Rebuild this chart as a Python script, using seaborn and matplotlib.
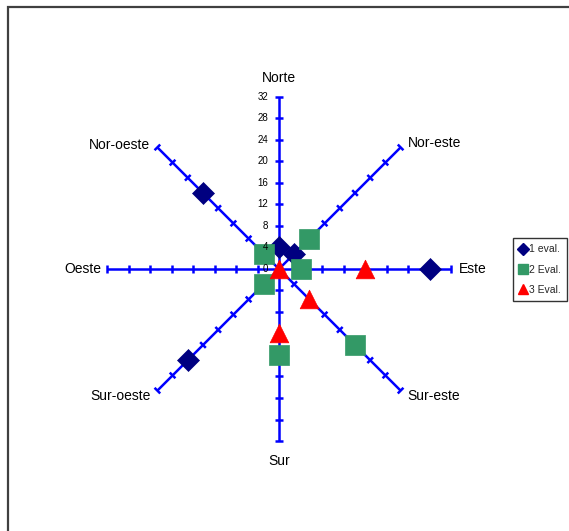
import numpy as np
import pandas as pd
import matplotlib
matplotlib.use("Agg")
import matplotlib.pyplot as plt
import seaborn as sns
from matplotlib.patches import Rectangle
from matplotlib.collections import LineCollection
from matplotlib.lines import Line2D

nan = np.nan

# Compass directions, clockwise from north
directions = ["Norte", "Nor-este", "Este", "Sur-este", "Sur", "Sur-oeste", "Oeste", "Nor-oeste"]

# Values per direction for each evaluation (nan = no value)
eval_1 = [4, 4, 28, nan, nan, 24, nan, 20]
eval_2 = [nan, 8, 4, 20, 16, 4, nan, 4]
eval_3 = [0, nan, 16, 8, 12, nan, nan, nan]
series_names = ["1 eval.", "2 Eval.", "3 Eval."]

radial_ticks = [0, 4, 8, 12, 16, 20, 24, 28, 32]
r_max = 32

sns.set_style("white")
plt.rcParams["font.family"] = ["Liberation Sans", "DejaVu Sans"]

W, H = 569, 531
PX = 5.375          # pixels per data unit
CX, CY = 279, 269   # centre of the radar in pixels

fig = plt.figure(figsize=(W / 100, H / 100), dpi=100)
ax = fig.add_axes([0, 0, 1, 1])
ax.set_xlim(-CX / PX, (W - CX) / PX)
ax.set_ylim(-(H - CY) / PX, CY / PX)
ax.axis("off")

theta = np.deg2rad(np.arange(len(directions)) * 45.0)
sin_t, cos_t = np.sin(theta), np.cos(theta)

# Spokes
axis_blue = "#0000FF"
for s, c in zip(sin_t, cos_t):
    ax.plot([0, r_max * s], [0, r_max * c], color=axis_blue, lw=1.8,
            solid_capstyle="butt", zorder=1)

# Tick marks across every spoke
half = 4.0 / PX
segs = []
for s, c in zip(sin_t, cos_t):
    for r in radial_ticks[1:]:
        px, py = r * s, r * c
        segs.append([(px - half * c, py + half * s), (px + half * c, py - half * s)])
ax.add_collection(LineCollection(segs, colors=axis_blue, linewidths=1.8, zorder=1))

# Radial scale labels along the north spoke (drawn above the markers)
for r in radial_ticks:
    ax.text(-11 / PX, r, str(r), ha="right", va="center", fontsize=7, color="#000000",
            zorder=5)

# Direction labels
label_style = {
    "Norte": (0, 19, "center"),
    "Nor-este": (7, 4, "left"),
    "Este": (8, 0, "left"),
    "Sur-este": (7, -5, "left"),
    "Sur": (0, -20, "center"),
    "Sur-oeste": (-7, -5, "right"),
    "Oeste": (-6, 0, "right"),
    "Nor-oeste": (-7, 2, "right"),
}
for name, s, c in zip(directions, sin_t, cos_t):
    dx, dy, ha = label_style[name]
    ax.text(r_max * s + dx / PX, r_max * c + dy / PX, name, ha=ha, va="center",
            fontsize=10, color="#000000")

# Evaluation markers
colors = ["#000080", "#339966", "#FF0000"]
markers = ["D", "s", "^"]
sizes = [125, 205, 180]
for vals, name, col, mk, sz in zip([eval_1, eval_2, eval_3], series_names, colors, markers, sizes):
    v = np.array(vals, dtype=float)
    df = pd.DataFrame({"x": v * sin_t, "y": v * cos_t}).dropna()
    sns.scatterplot(data=df, x="x", y="y", ax=ax, color=col, marker=mk, s=sz,
                    edgecolor=col, linewidth=0.5, zorder=3, legend=False)

ax.set_xlim(-CX / PX, (W - CX) / PX)
ax.set_ylim(-(H - CY) / PX, CY / PX)

handles = [Line2D([], [], ls="none", marker=m, color=c, markersize=ms, markeredgecolor=c)
           for m, c, ms in zip(markers, colors, [6, 7, 7.5])]
leg = fig.legend(handles, series_names, loc="upper left",
                 bbox_to_anchor=(513 / W, 1 - 238 / H), fontsize=7.5, frameon=True,
                 fancybox=False, edgecolor="#000000", borderaxespad=0, borderpad=0.6,
                 handlelength=0.7, handletextpad=0.2, labelspacing=1.0)
leg.get_frame().set_linewidth(1.0)

# Chart area border
fig.add_artist(Rectangle((7.5 / W, -0.5), 2.0, 1.5 - 6.5 / H, transform=fig.transFigure,
                         fill=False, edgecolor="#404040", lw=1.6))

fig.savefig("out.png", dpi=100)
